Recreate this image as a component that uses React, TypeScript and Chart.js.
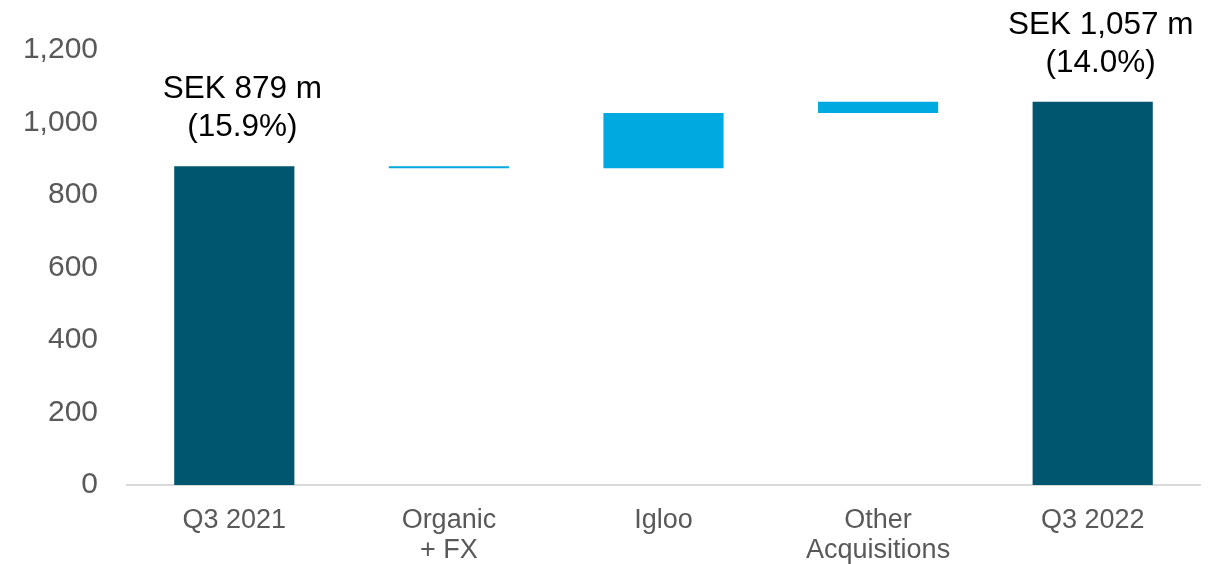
import React, { useEffect, useRef } from "react";
import { Chart, registerables } from "chart.js";

Chart.register(...registerables);

// Bridge categories (line breaks in labels are drawn as separate lines)
const categories: string[][] = [["Q3 2021"], ["Organic", "+ FX"], ["Igloo"], ["Other", "Acquisitions"], ["Q3 2022"]];
// Bar start and end values, SEK m
const barStarts = [0, 879, 874, 1026, 0];
const barEnds = [879, 874, 1026, 1057, 1057];
const barColors = ["#00566f", "#00a9e0", "#00a9e0", "#00a9e0", "#00566f"];
// Total labels shown above the end bars
const totalLabels: (string[] | null)[] = [["SEK 879 m", "(15.9%)"], null, null, null, ["SEK 1,057 m", "(14.0%)"]];
const yTicks = [0, 200, 400, 600, 800, 1000, 1200];

const FONT = "'Liberation Sans', Arial, sans-serif";

const totalLabelPlugin = {
  id: "totalLabels",
  afterDatasetsDraw(chart: any) {
    const ctx = chart.ctx;
    const meta = chart.getDatasetMeta(0);
    const y = chart.scales.y;
    ctx.save();
    ctx.fillStyle = "#000000";
    ctx.font = `31.5px ${FONT}`;
    ctx.textAlign = "center";
    ctx.textBaseline = "middle";
    totalLabels.forEach((lines, i) => {
      if (!lines) return;
      const x = meta.data[i].x + 8;
      const top = y.getPixelForValue(Math.max(barStarts[i], barEnds[i]));
      const lineGap = 38;
      lines.forEach((t, k) => {
        ctx.fillText(t, x, top - 39 - (lines.length - 1 - k) * lineGap);
      });
    });
    ctx.restore();
  },
};

export default function App() {
  const ref = useRef<HTMLCanvasElement | null>(null);

  useEffect(() => {
    document.body.style.margin = "0";
    if (!ref.current) return;
    const chart = new Chart(ref.current, {
      type: "bar",
      data: {
        labels: categories,
        datasets: [
          {
            data: barStarts.map((s, i) => [s, barEnds[i]] as [number, number]),
            backgroundColor: barColors,
            borderWidth: 0,
            borderSkipped: false,
            categoryPercentage: 1,
            barPercentage: 0.56,
          },
        ],
      },
      options: {
        animation: false,
        responsive: true,
        maintainAspectRatio: false,
        layout: { padding: { top: 50, right: 25, left: 0, bottom: 0 } },
        plugins: {
          legend: { display: false },
          tooltip: { enabled: false },
        },
        scales: {
          x: {
            grid: { display: false, drawTicks: false },
            border: { display: true, color: "#d9d9d9", width: 2 },
            ticks: {
              color: "#595959",
              font: { family: FONT, size: 27, lineHeight: 1.13 },
              padding: 20,
              maxRotation: 0,
              autoSkip: false,
            },
            afterFit(scale: any) {
              scale.height = 79;
            },
          },
          y: {
            min: 0,
            max: 1200,
            afterBuildTicks(scale: any) {
              scale.ticks = yTicks.map((v) => ({ value: v }));
            },
            grid: { display: false, drawTicks: false },
            border: { display: false },
            ticks: {
              color: "#595959",
              font: { family: FONT, size: 30 },
              padding: 29,
              callback: (v: any) => Number(v).toLocaleString("en-US"),
            },
            afterFit(scale: any) {
              scale.width = 127;
            },
          },
        },
      },
      plugins: [totalLabelPlugin],
    });
    return () => chart.destroy();
  }, []);

  return (
    <div style={{ position: "fixed", left: 0, top: 0, width: 1225, height: 564, background: "#ffffff" }}>
      <canvas ref={ref} />
    </div>
  );
}
